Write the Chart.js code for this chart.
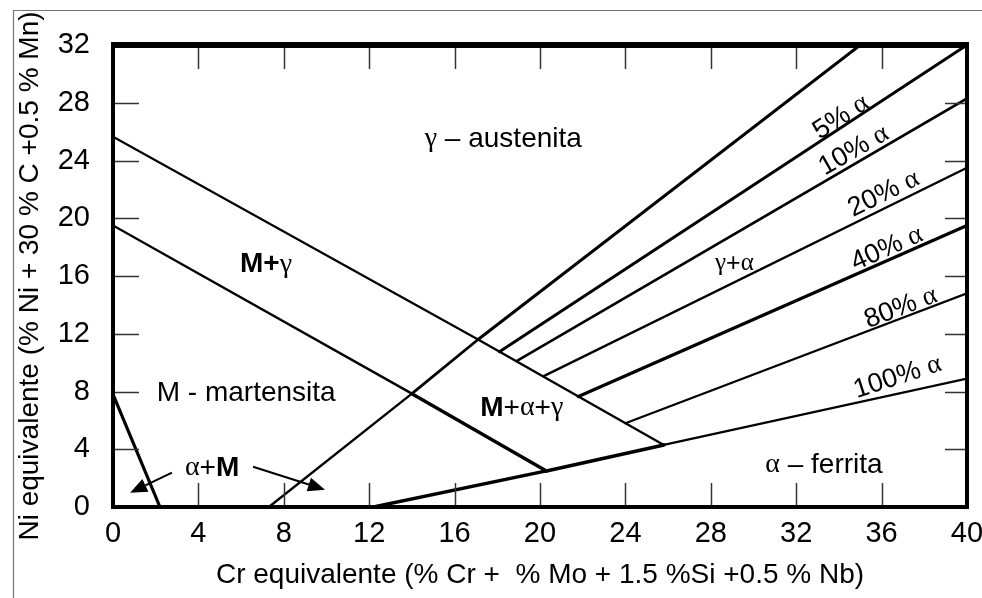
<!DOCTYPE html>
<html>
<head>
<meta charset="utf-8">
<script src="https://cdn.jsdelivr.net/npm/chart.js@4.4.1/dist/chart.umd.min.js"></script>
<style>
  html, body { margin: 0; padding: 0; background: #fff; }
  #wrap { width: 982px; height: 598px; }
</style>
</head>
<body>
<div id="wrap"><canvas id="diagram" width="982" height="598"></canvas></div>
<script>
'use strict';

// ── DATA ────────────────────────────────────────────────────────────────────
const X_MIN = 0, X_MAX = 40, X_STEP = 4;
const Y_MIN = 0, Y_MAX = 32, Y_STEP = 4;

// phase boundaries: Cr equivalent (x) / Ni equivalent (y) vertices
const martX  = [0, 2.2];                 const martY  = [7.8, 0];
const mgX    = [0, 17.1, 25.8];          const mgY    = [25.65, 11.6, 4.3];
const mX     = [0, 14.0, 20.3];          const mY     = [19.5, 7.85, 2.5];
const austX  = [7.3, 14.0, 17.1, 35.0];  const austY  = [0, 7.85, 11.6, 32];
const ferrX  = [12.2, 20.3, 25.8, 40];   const ferrY  = [0, 2.5, 4.3, 8.9];
const f5X    = [18.1, 40];               const f5Y    = [10.75, 32];
const f10X   = [18.9, 40];               const f10Y   = [10.1, 28.3];
const f20X   = [20.15, 40];              const f20Y   = [9.05, 23.5];
const f40X   = [21.8, 40];               const f40Y   = [7.65, 19.5];
const f80X   = [24.0, 40];               const f80Y   = [5.8, 14.8];

// region / line labels: anchor point in data units, text runs (g = greek serif, n = sans, b = bold sans)
const LABELS = [
  { x: 14.6,  y: 25.5,  anchor: 'left',   rot: 0,   size: 28, runs: [['γ', 'g'], [' – ', 'n'], ['austenita', 'n']] },
  { x: 5.95,  y: 16.8,  anchor: 'left',   rot: 0,   size: 28, runs: [['M+', 'b'], ['γ', 'g']] },
  { x: 2.05,  y: 7.9,   anchor: 'left',   rot: 0,   size: 28, runs: [['M - martensita', 'n']] },
  { x: 17.2,  y: 6.85,  anchor: 'left',   rot: 0,   size: 28, runs: [['M', 'b'], ['+', 'n'], ['α', 'g'], ['+', 'n'], ['γ', 'g']] },
  { x: 30.55, y: 2.9,   anchor: 'left',   rot: 0,   size: 28, runs: [['α', 'g'], [' – ', 'n'], ['ferrita', 'n']] },
  { x: 28.2,  y: 16.85, anchor: 'left',   rot: 0,   size: 25, runs: [['γ', 'g'], ['+', 'n'], ['α', 'g']] },
  { x: 3.37,  y: 2.7,   anchor: 'left',   rot: 0,   size: 28, runs: [['α', 'g'], ['+', 'n'], ['M', 'b']] },
  { x: 34.1,  y: 27.0,  anchor: 'center', rot: -33, size: 27, runs: [['5% ', 'n'], ['α', 'g']] },
  { x: 34.7,  y: 24.7,  anchor: 'center', rot: -30, size: 27, runs: [['10% ', 'n'], ['α', 'g']] },
  { x: 36.1,  y: 21.7,  anchor: 'center', rot: -26, size: 27, runs: [['20% ', 'n'], ['α', 'g']] },
  { x: 36.25, y: 17.9,  anchor: 'center', rot: -24, size: 27, runs: [['40% ', 'n'], ['α', 'g']] },
  { x: 36.9,  y: 13.8,  anchor: 'center', rot: -21, size: 27, runs: [['80% ', 'n'], ['α', 'g']] },
  { x: 36.75, y: 9.0,   anchor: 'center', rot: -18, size: 27, runs: [['100% ', 'n'], ['α', 'g']] }
];

// the two "α+M" pointers: tail -> tip
const ARROWS = [
  { x0: 2.76, y0: 2.38, x1: 0.8, y1: 0.99 },
  { x0: 6.56, y0: 2.79, x1: 9.93, y1: 1.2 }
];

const X_TITLE = 'Cr equivalente (% Cr +  % Mo + 1.5 %Si +0.5 % Nb)';
const Y_TITLE = 'Ni equivalente (% Ni + 30 % C +0.5 % Mn)';

// ── STYLE ───────────────────────────────────────────────────────────────────
const INK = '#000';
const SANS = "'Liberation Sans', Arial, sans-serif";
const SERIF = "'Liberation Serif', 'Times New Roman', serif";

const pts = (xs, ys) => xs.map((x, i) => ({ x, y: ys[i] }));

function boundary(xs, ys, widths) {
  return {
    data: pts(xs, ys),
    showLine: true,
    borderColor: INK,
    borderWidth: widths[0],
    pointRadius: 0,
    fill: false,
    tension: 0,
    borderCapStyle: 'round',
    segment: { borderWidth: ctx => widths[ctx.p0DataIndex] }
  };
}

const datasets = [
  boundary(martX, martY, [3.2]),
  boundary(mgX, mgY, [2.2, 2.4]),
  boundary(mX, mY, [2.4, 3.4]),
  boundary(austX, austY, [2.4, 2.8, 3.0]),
  boundary(ferrX, ferrY, [3.4, 3.6, 2.2]),
  boundary(f5X, f5Y, [3.0]),
  boundary(f10X, f10Y, [2.6]),
  boundary(f20X, f20Y, [2.4]),
  boundary(f40X, f40Y, [3.4]),
  boundary(f80X, f80Y, [2.2])
];

const range = (a, b, s) => { const r = []; for (let v = a; v <= b + 1e-9; v += s) r.push(v); return r; };

function drawRuns(ctx, lab, px, py) {
  const fontFor = k => k === 'g' ? `${lab.size}px ${SERIF}` : (k === 'b' ? `bold ${lab.size}px ${SANS}` : `${lab.size}px ${SANS}`);
  let total = 0;
  const widths = lab.runs.map(([t, k]) => { ctx.font = fontFor(k); const w = ctx.measureText(t).width; total += w; return w; });
  ctx.save();
  ctx.translate(px, py);
  ctx.rotate(lab.rot * Math.PI / 180);
  ctx.fillStyle = INK;
  ctx.textAlign = 'left';
  ctx.textBaseline = 'middle';
  let cx = lab.anchor === 'center' ? -total / 2 : 0;
  lab.runs.forEach(([t, k], i) => { ctx.font = fontFor(k); ctx.fillText(t, cx, 0); cx += widths[i]; });
  ctx.restore();
}

// ── DECORATION PLUGIN: frame, inward ticks, labels, arrows ────────────────
const decor = {
  id: 'decor',
  beforeDraw(chart) {
    const { ctx, width, height } = chart;
    ctx.save();
    ctx.fillStyle = '#fff';
    ctx.fillRect(0, 0, width, height);
    ctx.strokeStyle = '#777';
    ctx.lineWidth = 1.2;
    ctx.beginPath();
    ctx.moveTo(13.5, height);
    ctx.lineTo(13.5, 10.5);
    ctx.lineTo(width, 10.5);
    ctx.stroke();
    ctx.restore();
  },
  afterDatasetsDraw(chart) {
    const { ctx, chartArea: a, scales: { x, y } } = chart;
    const seg = (x0, y0, x1, y1) => { ctx.beginPath(); ctx.moveTo(x0, y0); ctx.lineTo(x1, y1); ctx.stroke(); };
    ctx.save();

    // inward tick marks on all four sides
    ctx.strokeStyle = '#333';
    ctx.lineWidth = 1.5;
    range(X_MIN + X_STEP, X_MAX - X_STEP, X_STEP).forEach(v => {
      const px = Math.round(x.getPixelForValue(v)) + 0.5;
      seg(px, a.top, px, a.top + 24);
      seg(px, a.bottom, px, a.bottom - 24);
    });
    range(Y_MIN + Y_STEP, Y_MAX - Y_STEP, Y_STEP).forEach(v => {
      const py = Math.round(y.getPixelForValue(v)) + 0.5;
      seg(a.left, py, a.left + 26, py);
      seg(a.right, py, a.right - 22, py);
    });

    // heavy plot frame
    ctx.strokeStyle = INK;
    ctx.lineWidth = 4;
    ctx.strokeRect(a.left, a.top, a.right - a.left, a.bottom - a.top);
    ctx.lineWidth = 6;
    seg(a.left - 2, a.top, a.right + 2, a.top);

    // labels
    LABELS.forEach(lab => drawRuns(ctx, lab, x.getPixelForValue(lab.x), y.getPixelForValue(lab.y)));

    // arrows
    ctx.fillStyle = INK;
    ctx.lineWidth = 2;
    ARROWS.forEach(ar => {
      const x0 = x.getPixelForValue(ar.x0), y0 = y.getPixelForValue(ar.y0);
      const x1 = x.getPixelForValue(ar.x1), y1 = y.getPixelForValue(ar.y1);
      const ang = Math.atan2(y1 - y0, x1 - x0);
      const len = 17, hw = 7;
      const bx = x1 - len * Math.cos(ang), by = y1 - len * Math.sin(ang);
      seg(x0, y0, bx, by);
      ctx.beginPath();
      ctx.moveTo(x1, y1);
      ctx.lineTo(bx + hw * Math.sin(ang), by - hw * Math.cos(ang));
      ctx.lineTo(bx - hw * Math.sin(ang), by + hw * Math.cos(ang));
      ctx.closePath();
      ctx.fill();
    });
    ctx.restore();
  }
};

// ── CHART ───────────────────────────────────────────────────────────────────
new Chart(document.getElementById('diagram').getContext('2d'), {
  type: 'scatter',
  data: { datasets },
  plugins: [decor],
  options: {
    responsive: false,
    devicePixelRatio: 1,
    animation: false,
    layout: { padding: { left: 0, top: 45, right: 15, bottom: 0 } },
    plugins: { legend: { display: false }, tooltip: { enabled: false } },
    scales: {
      x: {
        type: 'linear', min: X_MIN, max: X_MAX,
        grid: { display: false, drawTicks: false },
        border: { display: false },
        ticks: { stepSize: X_STEP, padding: 10, color: INK, font: { family: SANS, size: 29 } },
        title: { display: true, text: X_TITLE, color: INK, font: { family: SANS, size: 28 }, padding: { top: 0, bottom: 6 } },
        afterFit: s => { s.height = 91; s.paddingLeft = 0; s.paddingRight = 0; }
      },
      y: {
        type: 'linear', min: Y_MIN, max: Y_MAX,
        grid: { display: false, drawTicks: false },
        border: { display: false },
        ticks: { stepSize: Y_STEP, padding: 23, color: INK, font: { family: SANS, size: 29 } },
        title: { display: true, text: Y_TITLE, color: INK, font: { family: SANS, size: 28 }, padding: { top: 13, bottom: 0 } },
        afterFit: s => { s.width = 113; s.paddingTop = 0; s.paddingBottom = 0; }
      }
    }
  }
});
</script>
</body>
</html>
